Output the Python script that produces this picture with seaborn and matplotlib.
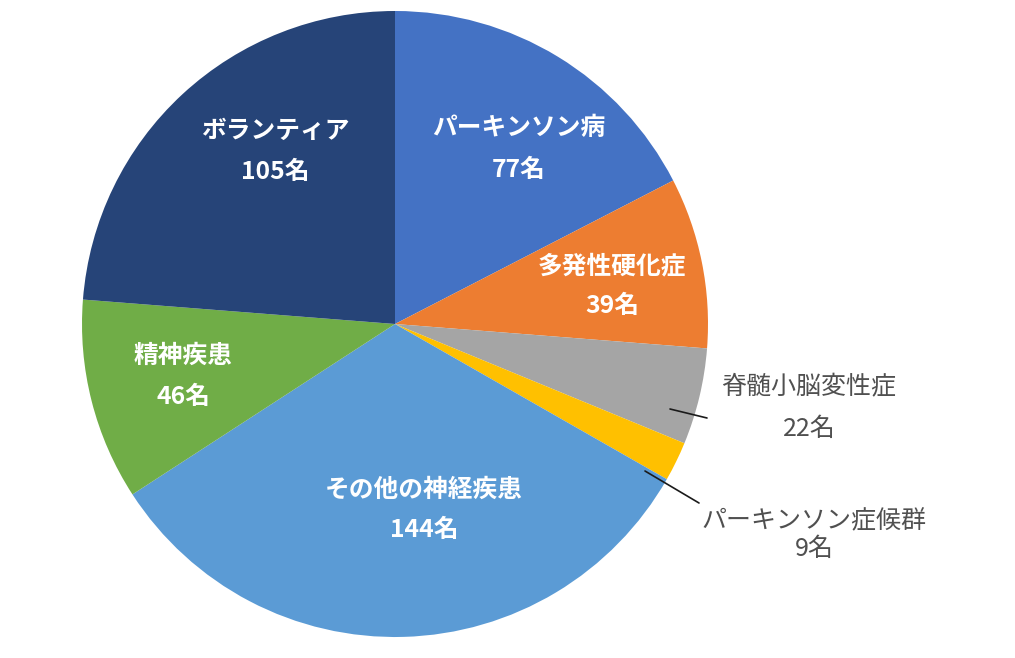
import matplotlib
matplotlib.use("Agg")
import matplotlib.pyplot as plt
import seaborn as sns
import numpy as np

categories = ["パーキンソン病", "多発性硬化症", "脊髄小脳変性症", "パーキンソン症候群",
              "その他の神経疾患", "精神疾患", "ボランティア"]
values = [77, 39, 22, 9, 144, 46, 105]
colors = ["#4472C4", "#ED7D31", "#A5A5A5", "#FFC000", "#5B9BD5", "#70AD47", "#264478"]

sns.set_theme(style="white")
plt.rcParams['font.family'] = ['Noto Sans CJK JP', 'DejaVu Sans']

W, H = 1015, 658
fig = plt.figure(figsize=(W / 100, H / 100), dpi=100)
ax = fig.add_axes([0, 0, 1, 1])

cx, cy, R = 395, H - 324, 313
ax.pie(values, colors=colors, startangle=90, counterclock=False,
       center=(cx, cy), radius=R, frame=True,
       wedgeprops=dict(linewidth=0))
ax.set_xlim(0, W)
ax.set_ylim(0, H)
ax.axis("off")

# label positions (pixel coords from top-left): name, value
inner_pos = {
    0: (519, 128, 170),
    1: (612, 266, 306),
    4: (424, 490, 530),
    5: (183, 356, 397),
    6: (275, 131, 172),
}
fs_in = 17.8
fs_out = 18.0
for i, (x, y1, y2) in inner_pos.items():
    ax.text(x, H - y1, categories[i], color="white", fontsize=fs_in, fontweight="bold",
            ha="center", va="center")
    ax.text(x, H - y2, f"{values[i]}名", color="white", fontsize=fs_in, fontweight="bold",
            ha="center", va="center")

outer_pos = {
    2: (809, 387, 429, (670, 409), (707, 418)),
    3: (814, 521, 549, (645, 471), (699, 503)),
}
for i, (x, y1, y2, p0, p1) in outer_pos.items():
    ax.text(x, H - y1, categories[i], color="#505050", fontsize=fs_out,
            ha="center", va="center")
    ax.text(x, H - y2, f"{values[i]}名", color="#505050", fontsize=fs_out,
            ha="center", va="center")
    ax.plot([p0[0], p1[0]], [H - p0[1], H - p1[1]], color="#1a1a1a", lw=1.2)

fig.savefig("out.png", dpi=100)
